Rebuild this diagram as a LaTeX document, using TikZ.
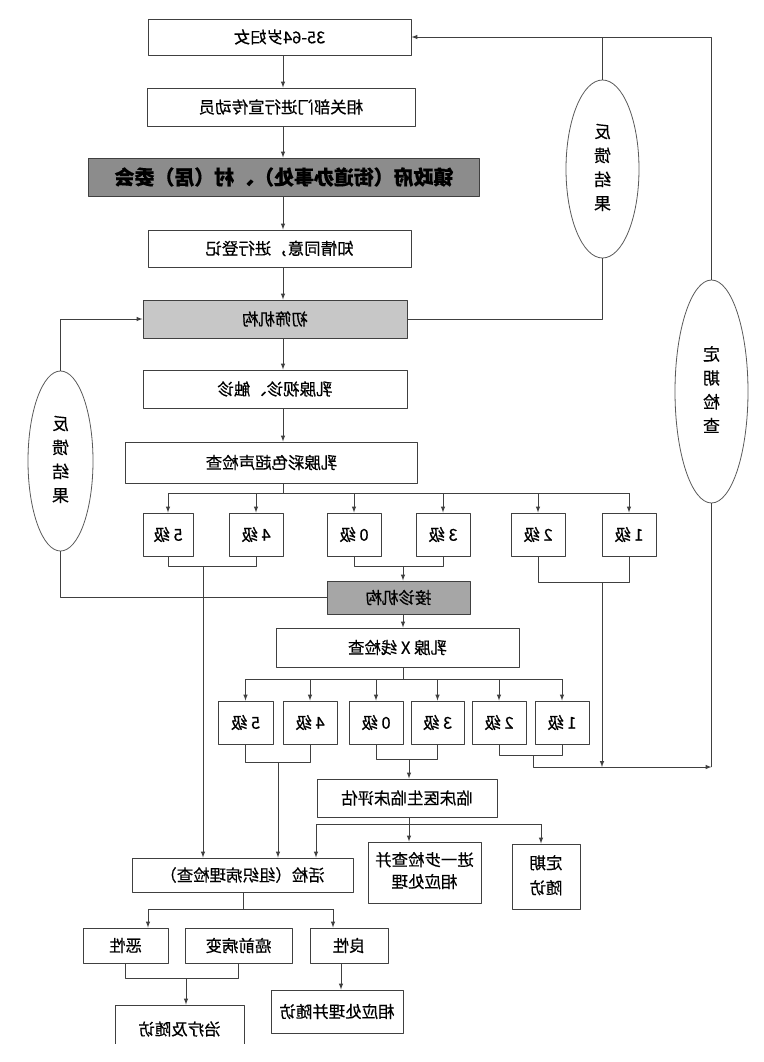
\documentclass[tikz,border=0pt]{standalone}
\usepackage{fontspec}
\usepackage{graphicx}
\newfontfamily\cjk[FakeBold=0.4]{Noto Sans CJK SC}
\usetikzlibrary{shapes.geometric}
\newcommand{\mr}[1]{\reflectbox{#1}}
\newcommand{\mrstack}[1]{\reflectbox{\begin{tabular}{@{}c@{}}#1\end{tabular}}}
\tikzset{
  box/.style={draw=black!75, line width=1bp, inner sep=0pt, font=\cjk\fontsize{16.5}{22}\selectfont},
  grade/.style={box, minimum width=54bp, minimum height=43bp},
  oval/.style={ellipse, draw=black!65, line width=0.8bp, inner sep=0pt, font=\cjk\fontsize{17}{24}\selectfont},
  conn/.style={draw=black!75, line width=1bp},
}
\begin{document}
\begin{tikzpicture}[>=latex,line join=bevel,x=1bp,y=-1bp]
  \useasboundingbox (0,0) rectangle (764,1062);
  \clip (0,0) rectangle (764,1043);
%%
  % Node: b1 .. b7
  \node[box, minimum width=263bp, minimum height=36bp] (b1) at (279.5,37) {\mr{35-64岁妇女}};
  \node[box, minimum width=268bp, minimum height=38bp] (b2) at (281,107) {\mr{相关部门进行宣传动员}};
  \node[box, fill=black!45, minimum width=390bp, minimum height=38bp,
        font=\cjk\bfseries\fontsize{20}{22}\selectfont] (b3) at (284,177) {\mr{镇政府（街道办事处）、村（居）委会}};
  \node[box, minimum width=263bp, minimum height=37bp] (b4) at (279.5,248.5) {\mr{知情同意，进行登记}};
  \node[box, fill=black!22, minimum width=264bp, minimum height=38bp] (b5) at (275,319) {\mr{初筛机构}};
  \node[box, minimum width=264bp, minimum height=38bp] (b6) at (275,389) {\mr{乳腺视诊、触诊}};
  \node[box, minimum width=291bp, minimum height=41bp] (b7) at (271.5,462.5) {\mr{乳腺彩色超声检查}};
  % Node: first grades
  \node[grade, minimum width=50bp] (r1a) at (168,534.5) {\mr{5 级}};
  \node[grade] (r1b) at (256,534.5) {\mr{4 级}};
  \node[grade] (r1c) at (354,534.5) {\mr{0 级}};
  \node[grade] (r1d) at (443,534.5) {\mr{3 级}};
  \node[grade] (r1e) at (538,534.5) {\mr{2 级}};
  \node[grade] (r1f) at (629,534.5) {\mr{1 级}};
  % Node: jz, xl
  \node[box, fill=black!35, minimum width=143bp, minimum height=33bp] (jz) at (398.5,597.5) {\mr{接诊机构}};
  \node[box, minimum width=243bp, minimum height=39bp] (xl) at (397.5,647.5) {\mr{乳腺 X 线检查}};
  % Node: second grades
  \node[grade, minimum width=55bp] (r2a) at (245.5,722.5) {\mr{5 级}};
  \node[grade] (r2b) at (310,722.5) {\mr{4 级}};
  \node[grade] (r2c) at (376,722.5) {\mr{0 级}};
  \node[grade, minimum width=53bp] (r2d) at (437.5,722.5) {\mr{3 级}};
  \node[grade] (r2e) at (499,722.5) {\mr{2 级}};
  \node[grade] (r2f) at (562,722.5) {\mr{1 级}};
  % Node: lc, huo, jy, dq
  \node[box, minimum width=180bp, minimum height=38bp] (lc) at (407,798) {\mr{临床医生临床评估}};
  \node[box, minimum width=221bp, minimum height=34bp] (huo) at (242.5,875) {\mr{活检（组织病理检查）}};
  \node[box, minimum width=113bp, minimum height=61bp] (jy) at (424.5,872.5) {\mrstack{进一步检查并\\相应处理}};
  \node[box, minimum width=68bp, minimum height=65bp, font=\cjk\fontsize{16.5}{25}\selectfont] (dq) at (546,876.5) {\mrstack{定期\\随访}};
  % Node: ex, aq, lx, zl, xc
  \node[box, minimum width=85bp, minimum height=35bp] (ex) at (125.5,945.5) {\mr{恶性}};
  \node[box, minimum width=107bp, minimum height=35bp] (aq) at (238.5,945.5) {\mr{癌前病变}};
  \node[box, minimum width=78bp, minimum height=35bp] (lx) at (349,945.5) {\mr{良性}};
  \node[box, minimum width=129bp, minimum height=48bp] (zl) at (179.5,1029) {\mr{治疗及随访}};
  \node[box, minimum width=132bp, minimum height=43bp] (xc) at (337,1011.5) {\mr{相应处理并随访}};
  % Node: fb1, dj, fb2
  \node[oval, minimum width=73bp, minimum height=178bp] (fb1) at (602.5,169) {\mrstack{反\\馈\\结\\果}};
  \node[oval, minimum width=73bp, minimum height=223bp] (dj) at (711.5,391.5) {\mrstack{定\\期\\检\\查}};
  \node[oval, minimum width=65bp, minimum height=180bp] (fb2) at (60.5,461) {\mrstack{反\\馈\\结\\果}};
%%
  \coordinate (sp) at (283,0);
  % Edge: b1 -> b2 -> ... -> b7
  \draw[conn,->] (b1.south -| sp) -- (b2.north -| sp);
  \draw[conn,->] (b2.south -| sp) -- (b3.north -| sp);
  \draw[conn,->] (b3.south -| sp) -- (b4.north -| sp);
  \draw[conn,->] (b4.south -| sp) -- (b5.north -| sp);
  \draw[conn,->] (b5.south -| sp) -- (b6.north -| sp);
  \draw[conn,->] (b6.south -| sp) -- (b7.north -| sp);
  % Edge: b7 -> first grades
  \coordinate (t1) at (283,493);
  \draw[conn] (b7.south -| t1) -- (t1);
  \draw[conn] (r1a.north |- t1) -- (r1f.north |- t1);
  \foreach \g in {r1a,r1b,r1c,r1d,r1e,r1f}
    \draw[conn,->] (\g.north |- t1) -- (\g.north);
  % Edge: 5, 4 -> huo
  \coordinate (u1) at (0,566);
  \coordinate (k1) at (203,566);
  \draw[conn] (r1a.south) -- (r1a.south |- u1) -- (r1b.south |- u1) -- (r1b.south);
  \draw[conn,->] (k1) -- (huo.north -| k1);
  % Edge: 0, 3 -> jz
  \coordinate (k2) at (403,566);
  \draw[conn] (r1c.south) -- (r1c.south |- u1) -- (r1d.south |- u1) -- (r1d.south);
  \draw[conn,->] (k2) -- (jz.north -| k2);
  % Edge: 2, 1 -> dj
  \coordinate (u2) at (0,582);
  \coordinate (k3) at (602,582);
  \coordinate (m3) at (602,767);
  \draw[conn] (r1e.south) -- (r1e.south |- u2) -- (r1f.south |- u2) -- (r1f.south);
  \draw[conn,->] (k3) -- (m3);
  % Edge: jz -> xl -> second grades
  \draw[conn,->] (jz.south -| k2) -- (xl.north -| k2);
  \coordinate (t2) at (403,679);
  \draw[conn] (xl.south -| t2) -- (t2);
  \draw[conn] (r2a.north |- t2) -- (r2f.north |- t2);
  \foreach \g in {r2a,r2b,r2c,r2d,r2e,r2f}
    \draw[conn,->] (\g.north |- t2) -- (\g.north);
  % Edge: 5, 4 -> huo
  \coordinate (u3) at (0,762);
  \coordinate (k4) at (278,762);
  \draw[conn] (r2a.south) -- (r2a.south |- u3) -- (r2b.south |- u3) -- (r2b.south);
  \draw[conn,->] (k4) -- (huo.north -| k4);
  % Edge: 0, 3 -> lc
  \coordinate (u4) at (0,759);
  \coordinate (k5) at (409,759);
  \draw[conn] (r2c.south) -- (r2c.south |- u4) -- (r2d.south |- u4) -- (r2d.south);
  \draw[conn,->] (k5) -- (lc.north -| k5);
  % Edge: 2, 1 -> dj
  \coordinate (u5) at (0,755);
  \coordinate (k6) at (533,755);
  \coordinate (m6) at (533,767);
  \coordinate (m7) at (711.5,767);
  \draw[conn] (r2e.south) -- (r2e.south |- u5) -- (r2f.south |- u5) -- (r2f.south);
  \draw[conn,->] (k6) -- (m6) -- (m7);
  % Edge: dj -> b1, fb1 -> b1
  \draw[conn] (dj.south) -- (m7);
  \draw[conn,->] (dj.north) -- (dj.north |- b1.east) -- (b1.east);
  \draw[conn] (fb1.north) -- (fb1.north |- b1.east);
  \draw[conn] (b5.east) -- (b5.east -| fb1.south) -- (fb1.south);
  % Edge: jz -> fb2 -> b5
  \draw[conn,->] (fb2.north) -- (fb2.north |- b5.west) -- (b5.west);
  \draw[conn] (jz.west) -- (jz.west -| fb2.south) -- (fb2.south);
  % Edge: lc -> huo, jy, dq
  \coordinate (t3) at (409,824);
  \coordinate (k7) at (316,824);
  \coordinate (k8) at (541,824);
  \draw[conn] (lc.south -| t3) -- (t3);
  \draw[conn] (k7) -- (k8);
  \draw[conn,->] (k7) -- (huo.north -| k7);
  \draw[conn,->] (t3) -- (jy.north -| t3);
  \draw[conn,->] (k8) -- (dq.north -| k8);
  % Edge: huo -> ex, lx
  \coordinate (t4) at (243,909);
  \coordinate (k9) at (148,909);
  \coordinate (k10) at (333,909);
  \draw[conn] (huo.south -| t4) -- (t4);
  \draw[conn] (k9) -- (k10);
  \draw[conn,->] (k9) -- (ex.north -| k9);
  \draw[conn,->] (k10) -- (lx.north -| k10);
  % Edge: ex, aq -> zl
  \coordinate (u6) at (0,978);
  \coordinate (k11) at (186,978);
  \draw[conn] (ex.south) -- (ex.south |- u6) -- (aq.south |- u6) -- (aq.south);
  \draw[conn,->] (k11) -- (zl.north -| k11);
  % Edge: lx -> xc
  \coordinate (k12) at (341,0);
  \draw[conn,->] (lx.south -| k12) -- (xc.north -| k12);
%
\end{tikzpicture}
\end{document}
